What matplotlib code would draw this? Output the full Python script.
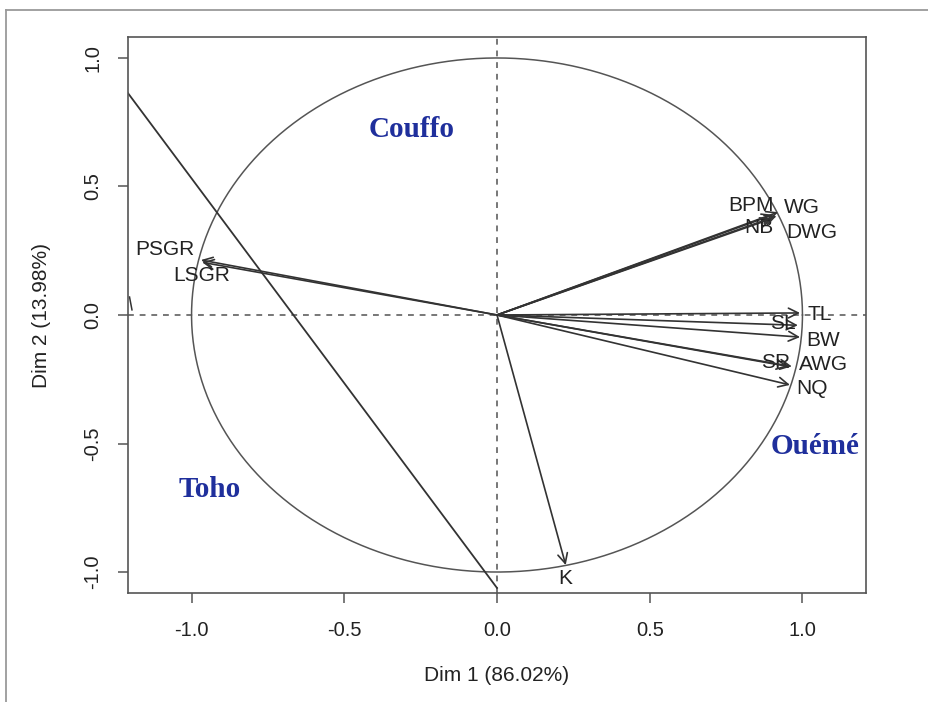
import numpy as np
import matplotlib
matplotlib.use("Agg")
import matplotlib.pyplot as plt
from matplotlib.lines import Line2D

# Variable coordinates on the first two principal dimensions
variables = ["BPM", "WG", "NB", "DWG", "TL", "SL", "BW", "SR", "AWG", "NQ", "K", "PSGR", "LSGR"]
dim1 = [0.905, 0.920, 0.900, 0.915, 0.992, 0.985, 0.992, 0.953, 0.965, 0.959, 0.225, -0.969, -0.965]
dim2 = [0.390, 0.400, 0.375, 0.385, 0.008, -0.040, -0.086, -0.200, -0.200, -0.272, -0.973, 0.214, 0.205]

# Region names written on the plane
regions = ["Couffo", "Toho", "Ouémé"]
region_x = [-0.28, -0.94, 1.04]
region_y = [0.72, -0.68, -0.51]

xlabel = "Dim 1 (86.02%)"
ylabel = "Dim 2 (13.98%)"
ticks = [-1.0, -0.5, 0.0, 0.5, 1.0]

# label offsets (pixels) from each arrow tip
label_offsets = {
    "BPM": (-22, 9), "WG": (24, 5), "NB": (-13, -9), "DWG": (35, -16),
    "TL": (20, -2), "SL": (-15, 2), "BW": (23, -3), "SR": (-12, 4),
    "AWG": (32, 2), "NQ": (22, -4), "K": (0, -13), "PSGR": (-36, 10),
    "LSGR": (-1, -13),
}

fig = plt.figure(figsize=(9.29, 7.02), dpi=100)
fig.patch.set_facecolor("white")

# outer frame
fig.add_artist(Line2D([6 / 929, 1.0], [1 - 10 / 702, 1 - 10 / 702],
                      transform=fig.transFigure, color="#9a9a9a", lw=1.3))
fig.add_artist(Line2D([6 / 929, 6 / 929], [0.0, 1 - 10 / 702],
                      transform=fig.transFigure, color="#9a9a9a", lw=1.3))

ax = fig.add_axes([128 / 929, 1 - 593 / 702, (866 - 128) / 929, (593 - 37) / 702])
ax.set_xlim(-1.208, 1.208)
ax.set_ylim(-1.0816, 1.0816)

for sp in ax.spines.values():
    sp.set_color("#555555")
    sp.set_linewidth(1.2)

ax.set_xticks(ticks)
ax.set_yticks(ticks)
ax.set_xticklabels([f"{t:.1f}" for t in ticks], fontsize=14.5, family="Liberation Sans", color="#222222")
ax.set_yticklabels([f"{t:.1f}" for t in ticks], fontsize=14.5, family="Liberation Sans", color="#222222",
                   rotation=90, va="center")
ax.tick_params(axis="both", direction="out", length=7.2, width=1.1, color="#555555")
ax.tick_params(axis="x", pad=13)
ax.tick_params(axis="y", pad=11.5)

ax.set_xlabel(xlabel, fontsize=15, family="Liberation Sans", color="#222222", labelpad=19)
ax.set_ylabel(ylabel, fontsize=15, family="Liberation Sans", color="#222222", labelpad=23)

# reference axes through the origin
ax.axhline(0, color="#777777", lw=1.4, ls=(0, (3, 3)))
ax.axvline(0, color="#777777", lw=1.4, ls=(0, (3, 3)))

# correlation circle
t = np.linspace(0, 2 * np.pi, 400)
ax.plot(np.cos(t), np.sin(t), color="#555555", lw=1.1)

# long diagonal line and small stroke at the left edge
ax.plot([0.0, -1.25], [-1.062, 0.93], color="#333333", lw=1.3, clip_on=True)
ax.plot([-1.203, -1.195], [0.07, 0.02], color="#333333", lw=1.1)

# variable arrows with labels
for name, x, y in zip(variables, dim1, dim2):
    ax.annotate("", xy=(x, y), xytext=(0, 0),
                arrowprops=dict(arrowstyle="->,head_length=0.7,head_width=0.35",
                                color="#333333", lw=1.2, shrinkA=0, shrinkB=0))
    dx, dy = label_offsets[name]
    ax.annotate(name, xy=(x, y), xytext=(dx, dy), textcoords="offset pixels",
                ha="center", va="center", fontsize=15, family="Liberation Sans",
                color="#222222")

for name, x, y in zip(regions, region_x, region_y):
    ax.text(x, y, name, ha="center", va="center", fontsize=21, fontweight="bold",
            family="Liberation Serif", color="#1f2f9c")

fig.savefig("out.png", dpi=100)
